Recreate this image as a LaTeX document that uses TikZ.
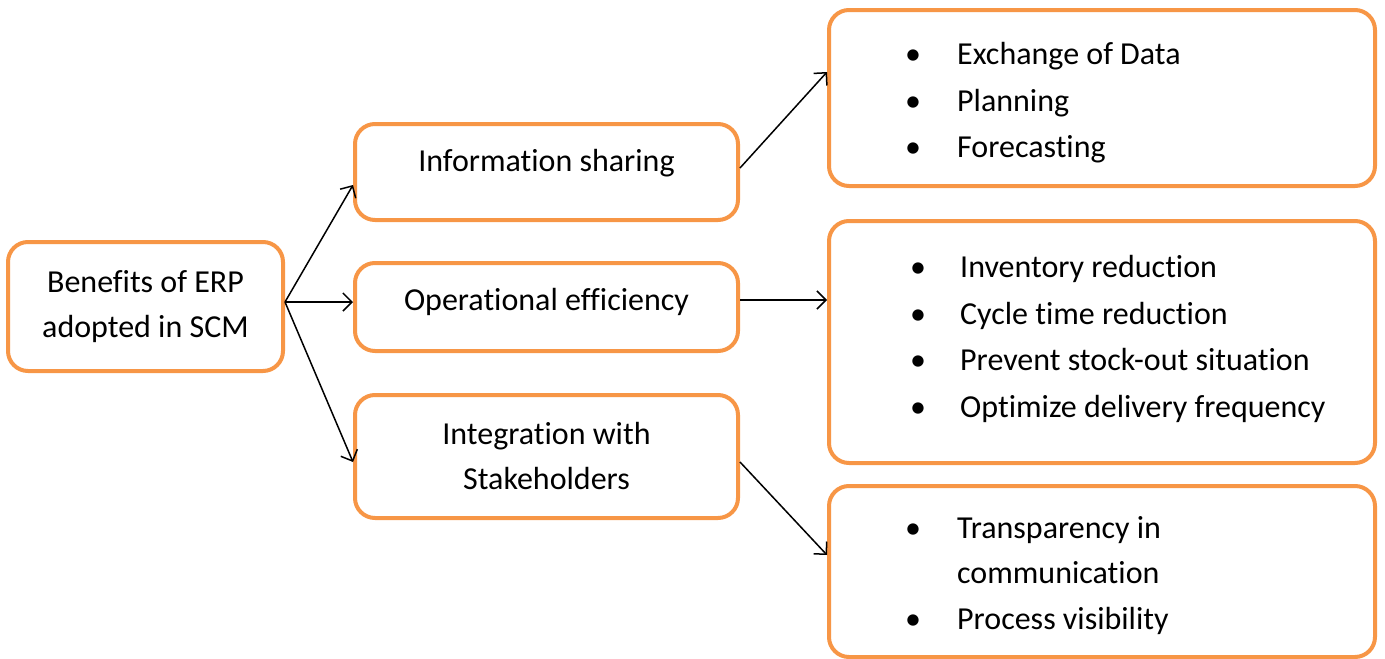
\documentclass[tikz,border=0pt]{standalone}
\usepackage{fontspec}
\setmainfont{Carlito}[RawFeature={-liga;-clig;-calt;-dlig;-rlig}]
\usetikzlibrary{arrows.meta}
\definecolor{boxorange}{HTML}{F79646}
\begin{document}
\begin{tikzpicture}[x=1pt,y=-1pt,
  box/.style={draw=boxorange, line width=4pt, rounded corners=20pt, fill=white, inner sep=0pt,
    font=\fontsize{32}{45}\selectfont, align=center},
  conn/.style={-{Straight Barb[length=9pt,width=18pt,line width=1.5pt]}, line width=1.5pt},
  item/.style={font=\fontsize{32}{45}\selectfont, anchor=base west, inner sep=0pt}]
\useasboundingbox (0,0) rectangle (1385,659);
% boxes
\node[box, minimum width=275pt, minimum height=129pt] (root) at (145.5,306.5) {Benefits of ERP\\adopted in SCM};
\node[box, minimum width=383pt, minimum height=96pt, text height=22pt, text depth=23pt] (info) at (546.5,172) {Information sharing};
\node[box, minimum width=383pt, minimum height=88pt, text height=22pt, text depth=15pt] (op) at (546.5,307) {Operational efficiency};
\node[box, minimum width=383pt, minimum height=123pt] (int) at (546.5,456.5) {Integration with\\Stakeholders};
\node[box, minimum width=546pt, minimum height=176pt] (A) at (1102,98) {};
\node[box, minimum width=546pt, minimum height=242pt] (B) at (1102,342) {};
\node[box, minimum width=546pt, minimum height=171pt] (C) at (1102,571.5) {};
% items
\node[item] (a1) at (913,64) {\makebox[0pt]{•}\hspace{44pt}Exchange of Data};
\node[item] (a2) at (913,111) {\makebox[0pt]{•}\hspace{44pt}Planning};
\node[item] (a3) at (913,157) {\makebox[0pt]{•}\hspace{44pt}Forecasting};
\node[item] (b1) at (918,277) {\makebox[0pt]{•}\hspace{42pt}Inventory reduction};
\node[item] (b2) at (918,324) {\makebox[0pt]{•}\hspace{42pt}Cycle time reduction};
\node[item] (b3) at (918,370) {\makebox[0pt]{•}\hspace{42pt}Prevent stock-out situation};
\node[item] (b4) at (918,417) {\makebox[0pt]{•}\hspace{42pt}Optimize delivery frequency};
\node[item] (c1) at (913,538) {\makebox[0pt]{•}\hspace{44pt}Transparency in};
\node[item] (c2) at (957,583) {communication};
\node[item] (c3) at (913,629) {\makebox[0pt]{•}\hspace{44pt}Process visibility};
% connectors
\draw[conn] ([yshift=4.5pt]root.east) -- ([yshift=-13pt]info.west);
\draw[conn] ([yshift=4.5pt]root.east) -- ([yshift=5pt]op.west);
\draw[conn] ([yshift=4.5pt]root.east) -- ([yshift=-5.5pt]int.west);
\draw[conn] ([yshift=4pt]info.east) -- ([yshift=26pt]A.west);
\draw[conn] ([yshift=7pt]op.east) -- ([yshift=42pt]B.west);
\draw[conn] ([yshift=-5.5pt]int.east) -- ([yshift=16.5pt]C.west);
\end{tikzpicture}
\end{document}
